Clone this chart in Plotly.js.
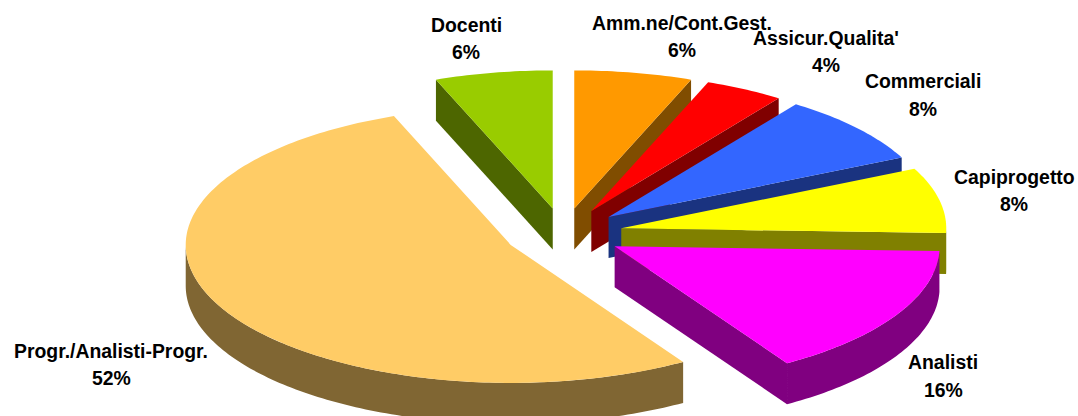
<!DOCTYPE html>
<html>
<head>
<meta charset="utf-8">
<script src="https://cdn.plot.ly/plotly-3.0.1.min.js"></script>
<style>html,body{margin:0;padding:0;background:#fff;overflow:hidden}#chart{width:1078px;height:416px}</style>
</head>
<body>
<div id="chart"></div>
<script>
// Data (clockwise from 12 o'clock), shares
const categories = ["Amm.ne/Cont.Gest.", "Assicur.Qualita'", "Commerciali", "Capiprogetto", "Analisti", "Progr./Analisti-Progr.", "Docenti"];
const shares = [5.85, 3.93, 8.11, 7.66, 15.55, 53.05, 5.85];
const percentLabels = ["6%", "4%", "8%", "8%", "16%", "52%", "6%"];
const topColors = ["#FF9900", "#FF0000", "#3366FF", "#FFFF00", "#FF00FF", "#FFCC66", "#99CC00"];
const wallColors = ["#804D00", "#800000", "#1A3380", "#808000", "#800080", "#806633", "#4D6600"];

// Label placement (pixel space of the page)
const labelX = [682, 826, 923, 1014, 943, 111, 466];
const nameY = [23, 38, 81, 177, 362, 351, 25];
const pctY = [50, 65, 109, 204, 390, 378, 52];

// Pie projection
const cx = 563.5, cy = 233.5, rx = 325, ry = 138, depth = 41, explodeX = 59, explodeY = 25.5;

const total = shares.reduce((a, b) => a + b, 0);
const traces = [];
let acc = 0;
const rad = d => d * Math.PI / 180;
const polygon = (pts, color, name) => ({
  type: "scatter", mode: "none", x: pts.map(p => p[0]), y: pts.map(p => p[1]),
  fill: "toself", fillcolor: color, name, hoverinfo: "name", showlegend: false
});

shares.forEach((share, i) => {
  const t0 = acc / total * 360;
  acc += share;
  const t1 = acc / total * 360;
  const mid = (t0 + t1) / 2;
  const ax = cx + explodeX * Math.sin(rad(mid));
  const ay = cy - explodeY * Math.cos(rad(mid));
  const at = t => [ax + rx * Math.sin(rad(t)), ay - ry * Math.cos(rad(t))];
  const down = p => [p[0], p[1] + depth];
  const apex = [ax, ay];
  const arcBetween = (a, b) => {
    const n = Math.max(2, Math.ceil(b - a));
    const pts = [];
    for (let k = 0; k <= n; k++) pts.push(at(a + (b - a) * k / n));
    return pts;
  };
  // only faces that look towards the viewer
  if (Math.sin(rad(t0)) < 0) {
    traces.push(polygon([apex, at(t0), down(at(t0)), down(apex)], wallColors[i], categories[i]));
  }
  if (Math.sin(rad(t1)) > 0.001) {
    traces.push(polygon([apex, at(t1), down(at(t1)), down(apex)], wallColors[i], categories[i]));
  }
  const f0 = Math.max(t0, 90), f1 = Math.min(t1, 270);
  if (f1 > f0) {
    const arc = arcBetween(f0, f1);
    traces.push(polygon(arc.concat(arc.slice().reverse().map(down)), wallColors[i], categories[i]));
  }
  traces.push(polygon([apex].concat(arcBetween(t0, t1)), topColors[i], categories[i]));
});

const font = {family: "Liberation Sans, Arial, sans-serif", size: 19.4, color: "#000"};
const annotations = [];
categories.forEach((c, i) => {
  annotations.push({x: labelX[i], y: nameY[i], text: "<b>" + c + "</b>", showarrow: false, xanchor: "center", yanchor: "middle", font});
  annotations.push({x: labelX[i], y: pctY[i], text: "<b>" + percentLabels[i] + "</b>", showarrow: false, xanchor: "center", yanchor: "middle", font});
});

const axis = {visible: false, fixedrange: true, showgrid: false, zeroline: false};
Plotly.newPlot("chart", traces, {
  width: 1078, height: 416,
  margin: {l: 0, r: 0, t: 0, b: 0},
  paper_bgcolor: "#fff", plot_bgcolor: "#fff",
  xaxis: Object.assign({range: [0, 1078]}, axis),
  yaxis: Object.assign({range: [416, 0]}, axis),
  annotations
}, {displayModeBar: false, staticPlot: true});
</script>
</body>
</html>
